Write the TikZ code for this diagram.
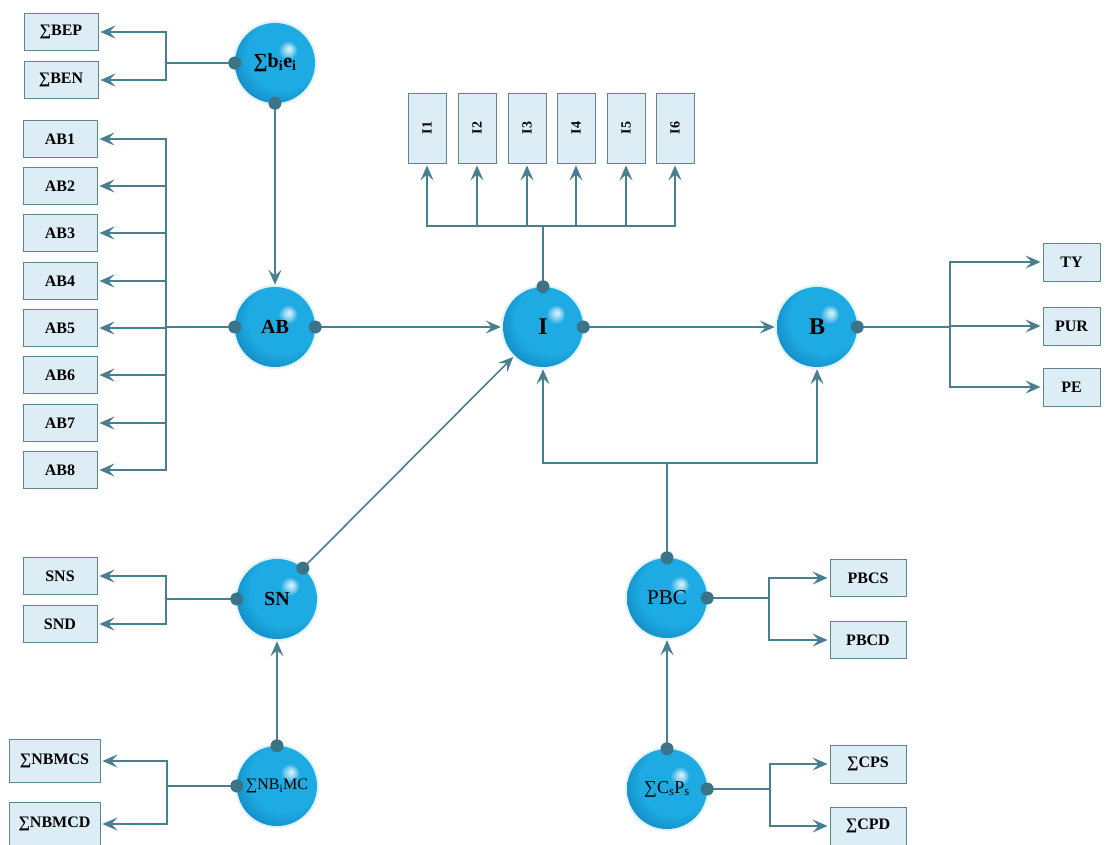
\documentclass[tikz,border=0pt]{standalone}
\usepackage{fontspec}
\setmainfont{Liberation Serif}
\usepackage{graphicx}
\usetikzlibrary{arrows.meta}
\definecolor{linec}{RGB}{72,128,146}
\definecolor{dotc}{RGB}{58,116,134}
\definecolor{boxfill}{RGB}{221,237,246}
\definecolor{boxline}{RGB}{96,132,146}
\definecolor{sphblue}{RGB}{30,170,226}
\definecolor{sphdark}{RGB}{12,122,182}
\definecolor{sphhi}{RGB}{225,247,255}
\pgfdeclareradialshading{sphere}{\pgfpoint{9bp}{9bp}}{color(0bp)=(sphhi); color(2.5bp)=(sphblue!45!white); color(6bp)=(sphblue); color(22bp)=(sphblue); color(37bp)=(sphdark); color(50bp)=(sphdark)}
\newcommand{\bsize}[1]{\fontsize{#1}{#1}\selectfont}

\begin{document}
\begin{tikzpicture}[x=1pt,y=-1pt,>={Stealth[length=15pt,width=13pt,inset=6pt]},
	wire/.style={draw=linec,line width=1.6pt},
	arr/.style={wire,->,shorten >=2pt},
	ball/.style={circle,shade,shading=sphere,minimum size=80pt,inner sep=0pt,
		preaction={draw=sphblue!15,line width=4pt},font=\bsize{20}\bfseries},
	box/.style={draw=boxline,fill=boxfill,line width=0.8pt,inner sep=0pt,font=\bsize{16}\bfseries},
	lbox/.style={box,minimum width=74pt,minimum height=37pt},
	wbox/.style={box,minimum width=91pt,minimum height=43pt},
	rbox/.style={box,minimum width=76pt,minimum height=37pt},
	ibox/.style={box,minimum width=38pt,minimum height=70pt,font=\bsize{14}\bfseries}]
	\path[use as bounding box,fill=white] (0,0) rectangle (1111,844);

	\node[ball] (sbe) at (275,63) {∑b\textsubscript{i}e\textsubscript{i}};
	\node[ball] (AB) at (275,327) {AB};
	\node[ball,font=\bsize{24}\bfseries] (I) at (543,327) {I};
	\node[ball,font=\bsize{24}\bfseries] (B) at (817,327) {B};
	\node[ball] (SN) at (277,599) {SN};
	\node[ball,font=\bsize{16}] (nbmc) at (277,786) {∑NB\textsubscript{i}MC};
	\node[ball,font=\bsize{21}] (PBC) at (667,598) {PBC};
	\node[ball,font=\bsize{18}] (csps) at (667,789) {∑C\textsubscript{s}P\textsubscript{s}};

	\node[lbox] (bep) at (61,32) {∑BEP};
	\node[lbox] (ben) at (61,80) {∑BEN};
	\foreach \k/\y in {1/139,2/186,3/233,4/281,5/328,6/375,7/423,8/470}
		\node[lbox] (ab\k) at (60,\y) {AB\k};
	\foreach \k/\x in {1/427,2/477,3/527,4/576,5/626,6/675}
		\node[ibox] (i\k) at (\x,128) {\rotatebox{90}{I\k}};
	\node[lbox,minimum width=57pt,minimum height=38pt] (ty) at (1071.5,262) {TY};
	\node[lbox,minimum width=57pt,minimum height=38pt] (pur) at (1071.5,326) {PUR};
	\node[lbox,minimum width=57pt,minimum height=38pt] (pe) at (1071.5,387) {PE};
	\node[lbox] (sns) at (60,576) {SNS};
	\node[lbox] (snd) at (60,624) {SND};
	\node[wbox] (nbmcs) at (54.5,761) {∑NBMCS};
	\node[wbox] (nbmcd) at (54.5,824) {∑NBMCD};
	\node[rbox] (pbcs) at (868,578) {PBCS};
	\node[rbox] (pbcd) at (868,640) {PBCD};
	\node[rbox,minimum height=38pt] (cps) at (868,764) {∑CPS};
	\node[rbox,minimum height=38pt] (cpd) at (868,826) {∑CPD};

	\foreach \t in {bep,ben}
		\draw[arr] (sbe.west) -- ++(-69,0) |- (\t.east);
	\foreach \k in {1,...,8}
		\draw[arr] (AB.west) -- ++(-69,0) |- (ab\k.east);
	\foreach \k in {1,...,6}
		\draw[arr] (I.north) -- ++(0,-61) -| (i\k.south);
	\foreach \t in {ty,pur,pe}
		\draw[arr] (B.east) -- ++(93,0) |- (\t.west);
	\foreach \t in {sns,snd}
		\draw[arr] (SN.west) -- ++(-71,0) |- (\t.east);
	\foreach \t in {nbmcs,nbmcd}
		\draw[arr] (nbmc.west) -- ++(-70,0) |- (\t.east);
	\foreach \t in {pbcs,pbcd}
		\draw[arr] (PBC.east) -- ++(62,0) |- (\t.west);
	\foreach \t in {cps,cpd}
		\draw[arr] (csps.east) -- ++(63,0) |- (\t.west);
	\foreach \t in {I,B}
		\draw[arr] (PBC.north) -- ++(0,-95) -| (\t.south);
	\draw[arr] (sbe.south) -- (AB.north);
	\draw[arr] (AB.east) -- (I.west);
	\draw[arr] (I.east) -- (B.west);
	\draw[arr] (SN.50) -- (I);
	\draw[arr] (nbmc.north) -- (SN.south);
	\draw[arr] (csps.north) -- (PBC.south);

	\foreach \p in {sbe.west,sbe.south,AB.west,AB.east,I.north,I.east,B.east,SN.west,SN.50,
		nbmc.west,nbmc.north,PBC.north,PBC.east,csps.north,csps.east}
		\fill[dotc] (\p) circle (6.5pt);
\end{tikzpicture}
\end{document}
